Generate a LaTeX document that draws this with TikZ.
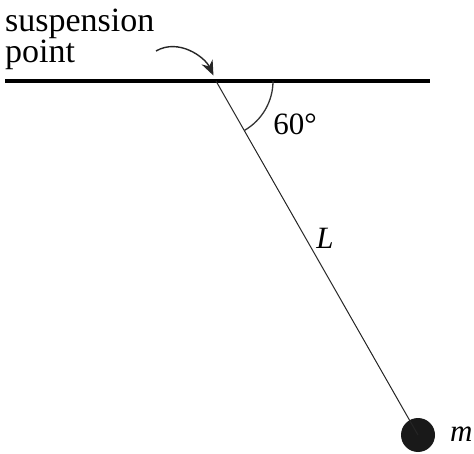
\documentclass[tikz,border=0pt]{standalone}
\usepackage{fontspec}
\setmainfont{Liberation Serif}
\usetikzlibrary{arrows.meta}
\tikzset{
    ceiling/.style={
        draw=black,
        line width=4.5pt
    },
    pendulumrod/.style={
        draw=black!85,
        line width=1pt
    },
    anglearc/.style={
        draw=black!80,
        line width=1.3pt
    },
    pointerarrow/.style={
        -{Stealth[length=15pt,width=12pt]},
        draw=black!85,
        line width=1.4pt
    },
    bob/.style={
        circle,
        fill=black!90,
        minimum size=34pt,
        inner sep=0pt
    },
    figurelabel/.style={
        inner sep=0pt,
        font=\fontsize{31}{31}\selectfont
    },
    calloutlabel/.style={
        inner sep=0pt,
        align=left,
        font=\fontsize{34}{31}\selectfont
    }
}

\begin{document}
\begin{tikzpicture}[x=1pt,y=1pt]
        \useasboundingbox (0,0) rectangle (474,-454);
        \coordinate (pivot) at (216,-81);
        \coordinate (barleft) at (5,-81);
        \coordinate (barright) at (430,-81);
        \coordinate (arrowstart) at (156,-51);
        \node[bob] (mass) at (418,-435) {};

        \node[calloutlabel,anchor=base west] (suspension) at (5,-63)
            {suspension\\point};
        \node[figurelabel] (angle) at (295,-124) {60°};
        \node[figurelabel] (length) at (325,-238) {\textit{L}};
        \node[figurelabel,anchor=west] (massname) at (450,-434) {\textit{m}};

        \draw[ceiling] (barleft) -- (barright);
        \draw[pendulumrod] (pivot) -- (mass.center);
        \draw[anglearc] ([shift={(0:57)}]pivot) arc[start angle=0,end angle=-60,radius=57];
        \draw[pointerarrow,shorten >=6pt] (arrowstart) to[out=30,in=115] (pivot);
    \end{tikzpicture}
\end{document}
